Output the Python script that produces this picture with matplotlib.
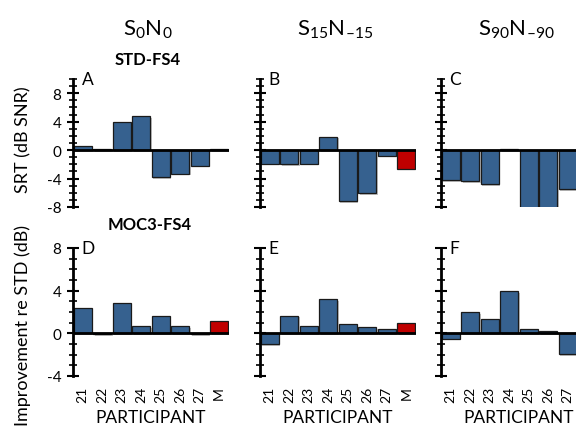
import matplotlib
matplotlib.use("Agg")
import matplotlib.pyplot as plt
import matplotlib.patheffects as pe
from matplotlib.ticker import MultipleLocator

plt.rcParams['font.family'] = ['Lato', 'DejaVu Sans']
plt.rcParams['mathtext.fontset'] = 'custom'
plt.rcParams['mathtext.rm'] = 'Lato'
plt.rcParams['axes.unicode_minus'] = False

participants = ['21', '22', '23', '24', '25', '26', '27', 'M']
col_titles = ['S$_\\mathregular{0}$N$_\\mathregular{0}$',
              'S$_\\mathregular{15}$N$_\\mathregular{\u201315}$',
              'S$_\\mathregular{90}$N$_\\mathregular{\u201390}$']
panel_letters = [['A', 'B', 'C'], ['D', 'E', 'F']]

# top row: SRT (dB SNR), STD-FS4
srt_s0n0 = [0.6, 0.1, 4.0, 4.8, -3.8, -3.3, -2.2, 0.15]
srt_s15 = [-1.9, -2.0, -1.9, 1.9, -7.2, -6.1, -0.8, -2.6]
srt_s90 = [-4.2, -4.4, -4.8, 0.2, -9.5, -9.5, -5.5, -5.0]

# bottom row: improvement re STD (dB), MOC3-FS4
imp_s0n0 = [2.35, -0.05, 2.85, 0.65, 1.6, 0.65, -0.05, 1.15]
imp_s15 = [-1.0, 1.65, 0.65, 3.2, 0.85, 0.55, 0.4, 0.95]
imp_s90 = [-0.5, 2.0, 1.3, 3.95, 0.45, 0.25, -1.95, 0.9]

rows = [[srt_s0n0, srt_s15, srt_s90], [imp_s0n0, imp_s15, imp_s90]]

BLUE = '#36618f'
RED = '#c00000'

W, H = 576, 435
fig = plt.figure(figsize=(W / 100, H / 100), dpi=100)

lefts = [73, 260, 441]
tops = [80, 249]
ax_w, ax_h = 156, 128
ylims = [(-8, 10), (-4, 8)]

for r in range(2):
    for c in range(3):
        ax = fig.add_axes([lefts[c] / W, 1 - (tops[r] + ax_h) / H, ax_w / W, ax_h / H])
        vals = rows[r][c]
        colors = [BLUE] * 7 + [RED]
        x = list(range(len(participants)))
        bars = ax.bar(x, vals, width=0.92, color=colors, edgecolor='#1a1a1a',
                      linewidth=0.9, zorder=2)
        for b in bars:
            b.set_path_effects([pe.SimplePatchShadow(offset=(1.2, -1.2),
                                                     shadow_rgbFace='#999999', alpha=0.6),
                                pe.Normal()])
        ax.axhline(0, color='black', lw=2, zorder=3)
        ax.set_xlim(-0.5, 7.5)
        ax.set_ylim(*ylims[r])
        for s in ['top', 'right', 'bottom']:
            ax.spines[s].set_visible(False)
        ax.spines['left'].set_linewidth(2)
        ax.spines['left'].set_zorder(4)
        ax.yaxis.set_major_locator(MultipleLocator(4))
        ax.yaxis.set_minor_locator(MultipleLocator(1))
        ax.tick_params(axis='y', which='major', direction='inout', length=9, width=1.5,
                       labelsize=11, pad=4)
        ax.tick_params(axis='y', which='minor', direction='inout', length=6, width=1.2)
        if c != 0:
            ax.tick_params(axis='y', labelleft=False)
        ax.set_xticks(x)
        if r == 0:
            ax.tick_params(axis='x', length=0, labelbottom=False)
        else:
            labels = ax.set_xticklabels(participants, rotation=90, fontsize=10)
            ax.tick_params(axis='x', length=0, pad=7)
            ax.set_xlabel('PARTICIPANT', fontsize=12.5, labelpad=5)
            if c == 2:
                # the M column of the right panel falls past the figure edge
                labels[-1].set_visible(False)
        ax.text(0.055, 1.0, panel_letters[r][c], transform=ax.transAxes,
                fontsize=12.5, va='center', ha='left')
        if r == 0:
            fig.text((lefts[c] + ax_w / 2 - 3) / W, 1 - 30 / H, col_titles[c],
                     fontsize=16, ha='center', va='center')

fig.text(148 / W, 1 - 60 / H, 'STD-FS4', fontsize=12, fontweight='bold',
         ha='center', va='center')
fig.text(150 / W, 1 - 225 / H, 'MOC3-FS4', fontsize=12, fontweight='bold',
         ha='center', va='center')
fig.text(23 / W, 1 - 140 / H, 'SRT (dB SNR)', fontsize=13, rotation=90,
         ha='center', va='center')
fig.text(23 / W, 1 - 326 / H, 'Improvement re STD (dB)', fontsize=13, rotation=90,
         ha='center', va='center')

fig.savefig('out.png', dpi=100)
